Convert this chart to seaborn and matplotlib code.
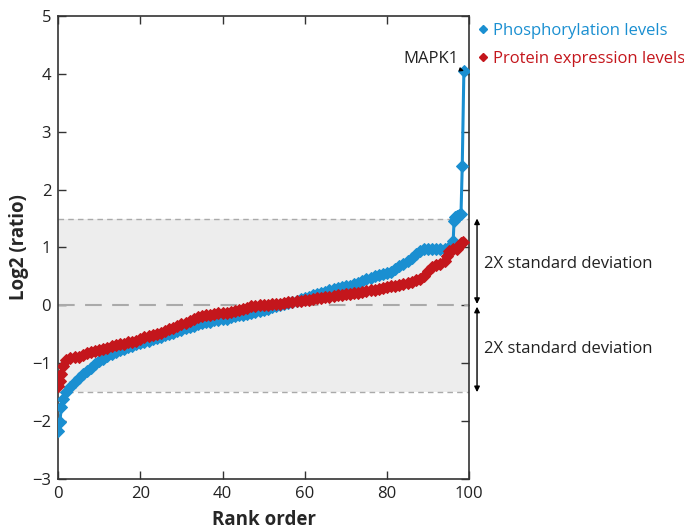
import numpy as np
import pandas as pd
import seaborn as sns
import matplotlib.pyplot as plt
from matplotlib.lines import Line2D

# values (rank order in percent, log2 ratio)
phos_rank = [0, 0.4, 0.8, 1.2] + list(range(2, 96)) + [95.6, 96.1, 96.3, 96.6, 97.0, 97.5, 98.0, 98.3, 98.7]
phos_log2 = [-2.17, -2.02, -1.75, -1.62,
             -1.50, -1.41, -1.32, -1.25, -1.19, -1.13, -1.08, -1.02, -0.97, -0.92,
             -0.88, -0.84, -0.81, -0.78, -0.75, -0.72, -0.70, -0.67, -0.65, -0.63,
             -0.61, -0.59, -0.56, -0.54, -0.52, -0.50, -0.47, -0.45, -0.42, -0.40,
             -0.38, -0.36, -0.33, -0.31, -0.29, -0.28, -0.26, -0.25, -0.24, -0.23,
             -0.21, -0.19, -0.17, -0.16, -0.15, -0.13, -0.12, -0.10, -0.08, -0.06,
             -0.03, -0.01, 0.00, 0.02, 0.04, 0.06, 0.08, 0.11, 0.13, 0.15,
             0.17, 0.19, 0.21, 0.23, 0.26, 0.28, 0.30, 0.31, 0.33, 0.34,
             0.36, 0.39, 0.42, 0.45, 0.48, 0.51, 0.53, 0.54, 0.55, 0.58,
             0.63, 0.68, 0.72, 0.77, 0.82, 0.88, 0.94, 0.97, 0.97, 0.97,
             0.97, 0.97, 0.97, 0.98,
             1.04, 1.11, 1.45, 1.52, 1.54, 1.56, 1.58, 2.40, 4.05]

prot_rank = [0, 0.4, 0.8, 1.2] + list(range(2, 95)) + [94.7, 95.1, 96.0, 97.0, 97.6, 98.1, 98.6]
prot_log2 = [-1.40, -1.30, -1.18, -1.05,
             -0.95, -0.91, -0.90, -0.89, -0.86, -0.82, -0.80, -0.79, -0.78, -0.76,
             -0.73, -0.71, -0.69, -0.67, -0.66, -0.64, -0.63, -0.61, -0.58, -0.55,
             -0.53, -0.51, -0.49, -0.47, -0.44, -0.41, -0.39, -0.36, -0.33, -0.30,
             -0.27, -0.24, -0.21, -0.19, -0.17, -0.16, -0.15, -0.14, -0.13, -0.13,
             -0.12, -0.10, -0.08, -0.06, -0.04, -0.02, -0.01, 0.00, 0.00, 0.01,
             0.02, 0.03, 0.03, 0.04, 0.05, 0.06, 0.07, 0.08, 0.09, 0.10,
             0.11, 0.12, 0.13, 0.14, 0.15, 0.16, 0.17, 0.18, 0.19, 0.19,
             0.21, 0.22, 0.23, 0.25, 0.26, 0.27, 0.29, 0.30, 0.32, 0.33,
             0.34, 0.35, 0.37, 0.39, 0.41, 0.44, 0.46, 0.51, 0.60, 0.66,
             0.69, 0.72, 0.76,
             0.85, 0.93, 0.97, 0.97, 1.02, 1.08, 1.10]

blue = '#1a8fd1'
red = '#c4161c'

sns.set_style("ticks")
plt.rcParams['font.family'] = ['Open Sans', 'DejaVu Sans']

fig = plt.figure(figsize=(6.84, 5.31), dpi=100)
ax = fig.add_axes([0.085, 0.098, 0.601, 0.872])

# 2X SD band and reference lines
ax.axhspan(-1.5, 1.5, color='#ededed', zorder=0, lw=0)
ax.axhline(1.5, color='#aaaaaa', lw=1, ls=(0, (4, 3)), zorder=1)
ax.axhline(-1.5, color='#aaaaaa', lw=1, ls=(0, (4, 3)), zorder=1)
ax.axhline(0, color='#aaaaaa', lw=1.5, ls=(0, (8, 5)), zorder=1)

phos = pd.DataFrame({'rank': phos_rank, 'log2': phos_log2})
prot = pd.DataFrame({'rank': prot_rank, 'log2': prot_log2})

sns.lineplot(data=phos, x='rank', y='log2', ax=ax, color=blue, marker='D',
             markersize=6.5, markeredgecolor=blue, lw=2.2, estimator=None, sort=False, zorder=3)
sns.lineplot(data=prot, x='rank', y='log2', ax=ax, color=red, marker='D',
             markersize=6.5, markeredgecolor=red, lw=2.2, estimator=None, sort=False, zorder=4)

ax.set_xlim(0, 100)
ax.set_ylim(-3, 5)
ax.set_xticks([0, 20, 40, 60, 80, 100])
ax.set_yticks(range(-3, 6))
ax.set_yticklabels([str(v).replace('-', '\u2212') for v in range(-3, 6)])
ax.tick_params(direction='in', length=6, width=1, top=True, right=True,
               labelsize=12, colors='#333333', labelcolor='#222222', pad=5)
for s in ax.spines.values():
    s.set_color('#333333')
    s.set_linewidth(1.2)

ax.set_xlabel('Rank order', fontsize=13.5, fontweight='bold', labelpad=6)
ax.set_ylabel('Log2 (ratio)', fontsize=13.5, fontweight='bold', labelpad=2)

# MAPK1 label
ax.annotate('MAPK1', xy=(phos_rank[-1], phos_log2[-1]), xytext=(97.3, 4.25),
            ha='right', va='center', fontsize=12, color='#222222',
            arrowprops=dict(arrowstyle='-|>', color='black', lw=0.8,
                            mutation_scale=6, shrinkA=0, shrinkB=2))

# SD arrows
for y0, y1, ytxt in [(0, 1.5, 0.72), (0, -1.5, -0.76)]:
    ax.annotate('', xy=(101.9, y1), xytext=(101.9, y0), annotation_clip=False,
                arrowprops=dict(arrowstyle='<|-|>', color='black', lw=1,
                                mutation_scale=8, shrinkA=1, shrinkB=0))
    ax.text(103.6, ytxt, '2X standard deviation', fontsize=12, color='#222222',
            va='center', ha='left', clip_on=False)

handles = [Line2D([], [], ls='none', marker='D', color=blue, markersize=4),
           Line2D([], [], ls='none', marker='D', color=red, markersize=4)]
ax.legend(handles, ['Phosphorylation levels', 'Protein expression levels'],
          loc='upper left', bbox_to_anchor=(1.005, 1.0), frameon=False,
          handlelength=0.6, handletextpad=0.3, labelcolor=[blue, red],
          fontsize=12, borderaxespad=0, labelspacing=0.75)

fig.savefig('out.png', dpi=100)
